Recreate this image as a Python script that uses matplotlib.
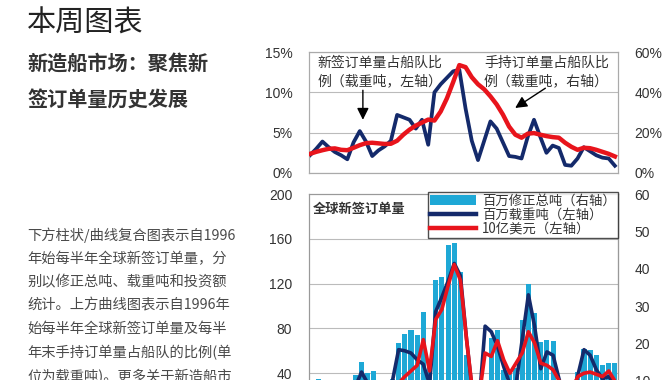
import matplotlib.pyplot as plt
from matplotlib.patches import Patch
from matplotlib.lines import Line2D

# half-year periods 1996H1 .. 2020H2
periods = [f"{y}H{h}" for y in range(1996, 2021) for h in (1, 2)]

# top chart: new orders / fleet (dwt, left axis, %), orderbook / fleet (dwt, right axis, %)
new_ratio_pct = [2.2, 3.0, 3.9, 3.2, 2.6, 2.2, 1.7, 3.8, 5.2, 3.9,
                 2.1, 2.8, 3.3, 4.0, 7.2, 6.9, 6.6, 5.5, 6.6, 3.5,
                 10.0, 11.0, 11.8, 12.6, 12.8, 8.0, 4.0, 1.6, 4.0, 6.4,
                 5.5, 3.8, 2.1, 2.0, 1.8, 4.5, 6.6, 4.5, 2.5, 3.4,
                 3.1, 1.0, 0.9, 1.8, 3.2, 2.7, 2.2, 1.9, 1.8, 0.9]
orderbook_pct = [9.5, 10.5, 11.3, 12.0, 12.2, 11.5, 11.3, 12.5, 13.8, 14.8,
                 15.0, 14.7, 14.4, 14.5, 16.0, 19.0, 21.5, 23.5, 25.0, 26.5,
                 26.0, 30.5, 37.0, 45.0, 53.5, 52.5, 47.5, 44.0, 41.5, 38.0,
                 34.0, 29.0, 23.0, 19.0, 17.5, 19.5, 19.8, 19.0, 18.3, 17.8,
                 17.5, 15.0, 13.0, 11.5, 12.5, 12.3, 11.5, 10.5, 9.5, 8.2]

# bottom chart: global new orders per half year
cgt_mn = [8.5, 10.5, 9.5, 10.0, 9.0, 7.5, 9.0, 11.5, 15.0, 12.0,
          12.5, 8.0, 7.5, 10.5, 20.0, 22.5, 23.5, 22.2, 28.5, 14.0,
          37.0, 37.8, 46.3, 47.0, 39.0, 16.8, 6.0, 4.5, 9.0, 21.5,
          23.5, 12.9, 12.9, 13.5, 26.3, 36.0, 28.2, 20.4, 20.9, 20.7,
          9.0, 5.0, 5.5, 12.4, 18.4, 18.2, 16.9, 14.2, 14.6, 14.6]
dwt_mn = [16, 22, 28, 25, 21, 17, 13, 28, 41, 31,
          17, 22, 27, 33, 61, 60, 58, 52, 48, 30,
          95, 108, 122, 138, 127, 70, 20, 12, 82, 77,
          64, 46, 30, 30, 70, 110, 82, 44, 59, 56,
          34, 20, 18, 38, 61, 56, 43, 35, 37, 30]
usd_bn = [22, 20, 24, 22, 18, 16, 14, 20, 28, 24,
          18, 20, 22, 26, 31, 37, 42, 47, 70, 42,
          88, 97, 118, 137, 123, 70, 22, 18, 58, 55,
          69, 52, 40, 49, 58, 77, 67, 49, 47, 43,
          33, 22, 25, 37, 40, 41, 39, 37, 42, 33]

plt.rcParams['font.family'] = ['Liberation Sans', 'Noto Sans CJK SC']
CJK = ['Noto Sans CJK SC', 'DejaVu Sans']
NAVY = '#142a6b'
RED = '#e8141c'
CYAN = '#1ea8d6'
TXT = '#333333'

W, H = 670, 380
fig = plt.figure(figsize=(W / 100, H / 100), dpi=100)


def fx(px):
    return px / W


def fy(py):
    return 1 - py / H


# left-hand text block
fig.text(fx(27), fy(24), '本周图表', family=CJK, fontsize=21, color='#222222',
         va='center', ha='left')
fig.text(fx(27), fy(64), '新造船市场：聚焦新', family=CJK, fontsize=14.5,
         color=TXT, va='center', ha='left', fontweight='bold')
fig.text(fx(27), fy(100), '签订单量历史发展', family=CJK, fontsize=14.5,
         color=TXT, va='center', ha='left', fontweight='bold')

para = ['下方柱状/曲线复合图表示自1996',
        '年始每半年全球新签订单量，分',
        '别以修正总吨、载重吨和投资额',
        '统计。上方曲线图表示自1996年',
        '始每半年全球新签订单量及每半',
        '年末手持订单量占船队的比例(单',
        '位为载重吨)。更多关于新造船市']
for k, line in enumerate(para):
    fig.text(fx(27), fy(235 + k * 23.6), line, family=CJK, fontsize=10.3,
             color='#4a4a4a', va='center', ha='left')

# ---------- top chart ----------
ax_t = fig.add_axes([fx(309), fy(173), fx(309), (173 - 52) / H])
ax_tr = ax_t.twinx()
x = range(len(periods))
ax_t.plot(x, new_ratio_pct, color=NAVY, lw=2.7, zorder=3)
ax_tr.plot(x, orderbook_pct, color=RED, lw=3.2, zorder=3)
# red line above navy in the original
ax_tr.set_zorder(ax_t.get_zorder() + 1)
ax_tr.patch.set_visible(False)

ax_t.set_xlim(-0.16, 49.5)
ax_t.set_ylim(0, 15)
ax_tr.set_ylim(0, 60)
ax_t.set_yticks([0, 5, 10, 15], ['0%', '5%', '10%', '15%'])
ax_tr.set_yticks([0, 20, 40, 60], ['0%', '20%', '40%', '60%'])
ax_t.set_xticks([])
ax_t.grid(axis='y', color='#bbbbbb', lw=0.8)
for a in (ax_t, ax_tr):
    a.tick_params(length=0, pad=12, labelsize=10, colors=TXT)
    for s in a.spines.values():
        s.set_color('#aaaaaa')
        s.set_linewidth(0.8)

ax_tr.text(0.026, 0.915, '新签订单量占船队比', transform=ax_t.transAxes,
           family=CJK, fontsize=10, color=TXT, va='center')
ax_tr.text(0.026, 0.76, '例（载重吨，左轴）', transform=ax_t.transAxes,
           family=CJK, fontsize=10, color=TXT, va='center')
ax_tr.text(0.566, 0.915, '手持订单量占船队比', transform=ax_t.transAxes,
           family=CJK, fontsize=10, color=TXT, va='center')
ax_tr.text(0.566, 0.76, '例（载重吨，右轴）', transform=ax_t.transAxes,
           family=CJK, fontsize=10, color=TXT, va='center')
arrow = dict(arrowstyle='-|>,head_length=0.7,head_width=0.35', color='black', lw=1)
ax_tr.annotate('', xy=(8.5, 25), xytext=(8.5, 42.4), arrowprops=arrow)
ax_tr.annotate('', xy=(32.6, 31.5), xytext=(38.2, 42.8), arrowprops=arrow)

# ---------- bottom chart ----------
ax_b = fig.add_axes([fx(309), fy(418), fx(309), (418 - 194) / H])
ax_br = ax_b.twinx()
ax_br.bar(x, cgt_mn, width=0.82, color=CYAN, zorder=2)
ax_b.plot(x, dwt_mn, color=NAVY, lw=2.6, zorder=3)
ax_b.plot(x, usd_bn, color=RED, lw=2.6, zorder=4)
ax_b.set_zorder(ax_br.get_zorder() + 1)
ax_b.patch.set_visible(False)

ax_b.set_xlim(-0.5, 49.5)
ax_b.set_ylim(0, 200)
ax_br.set_ylim(0, 60)
ax_b.set_yticks([0, 40, 80, 120, 160, 200])
ax_br.set_yticks([0, 10, 20, 30, 40, 50, 60])
ax_b.set_xticks([])
# grid at left-axis ticks, drawn behind the bars
ax_br.set_yticks([12, 24, 36, 48], minor=True)
ax_br.grid(axis='y', which='minor', color='#bbbbbb', lw=0.8, zorder=0)
ax_br.tick_params(which='minor', length=0)
for a in (ax_b, ax_br):
    a.tick_params(length=0, pad=12, labelsize=10, colors=TXT)
    for s in a.spines.values():
        s.set_color('#999999')
        s.set_linewidth(0.8)
ax_br.spines['right'].set_color('#333333')

ax_b.text(0.012, 0.935, '全球新签订单量', transform=ax_b.transAxes,
          family=CJK, fontsize=9.5, fontweight='bold', color=TXT, va='center')

handles = [Patch(facecolor=CYAN),
           Line2D([], [], color=NAVY, lw=3.2),
           Line2D([], [], color=RED, lw=3.2)]
labels = ['百万修正总吨（右轴）', '百万载重吨（左轴）', '10亿美元（左轴）']
leg = ax_b.legend(handles, labels, loc='upper right', bbox_to_anchor=(1.0, 1.01),
                  borderaxespad=0, frameon=True, fancybox=False, edgecolor='#222222',
                  prop={'family': CJK, 'size': 9.6}, handlelength=3.4,
                  labelspacing=0.0, borderpad=0.15, handletextpad=0.5,
                  labelcolor=TXT)
leg.get_frame().set_linewidth(1)
leg.set_zorder(10)

fig.savefig('out.png', dpi=100)
